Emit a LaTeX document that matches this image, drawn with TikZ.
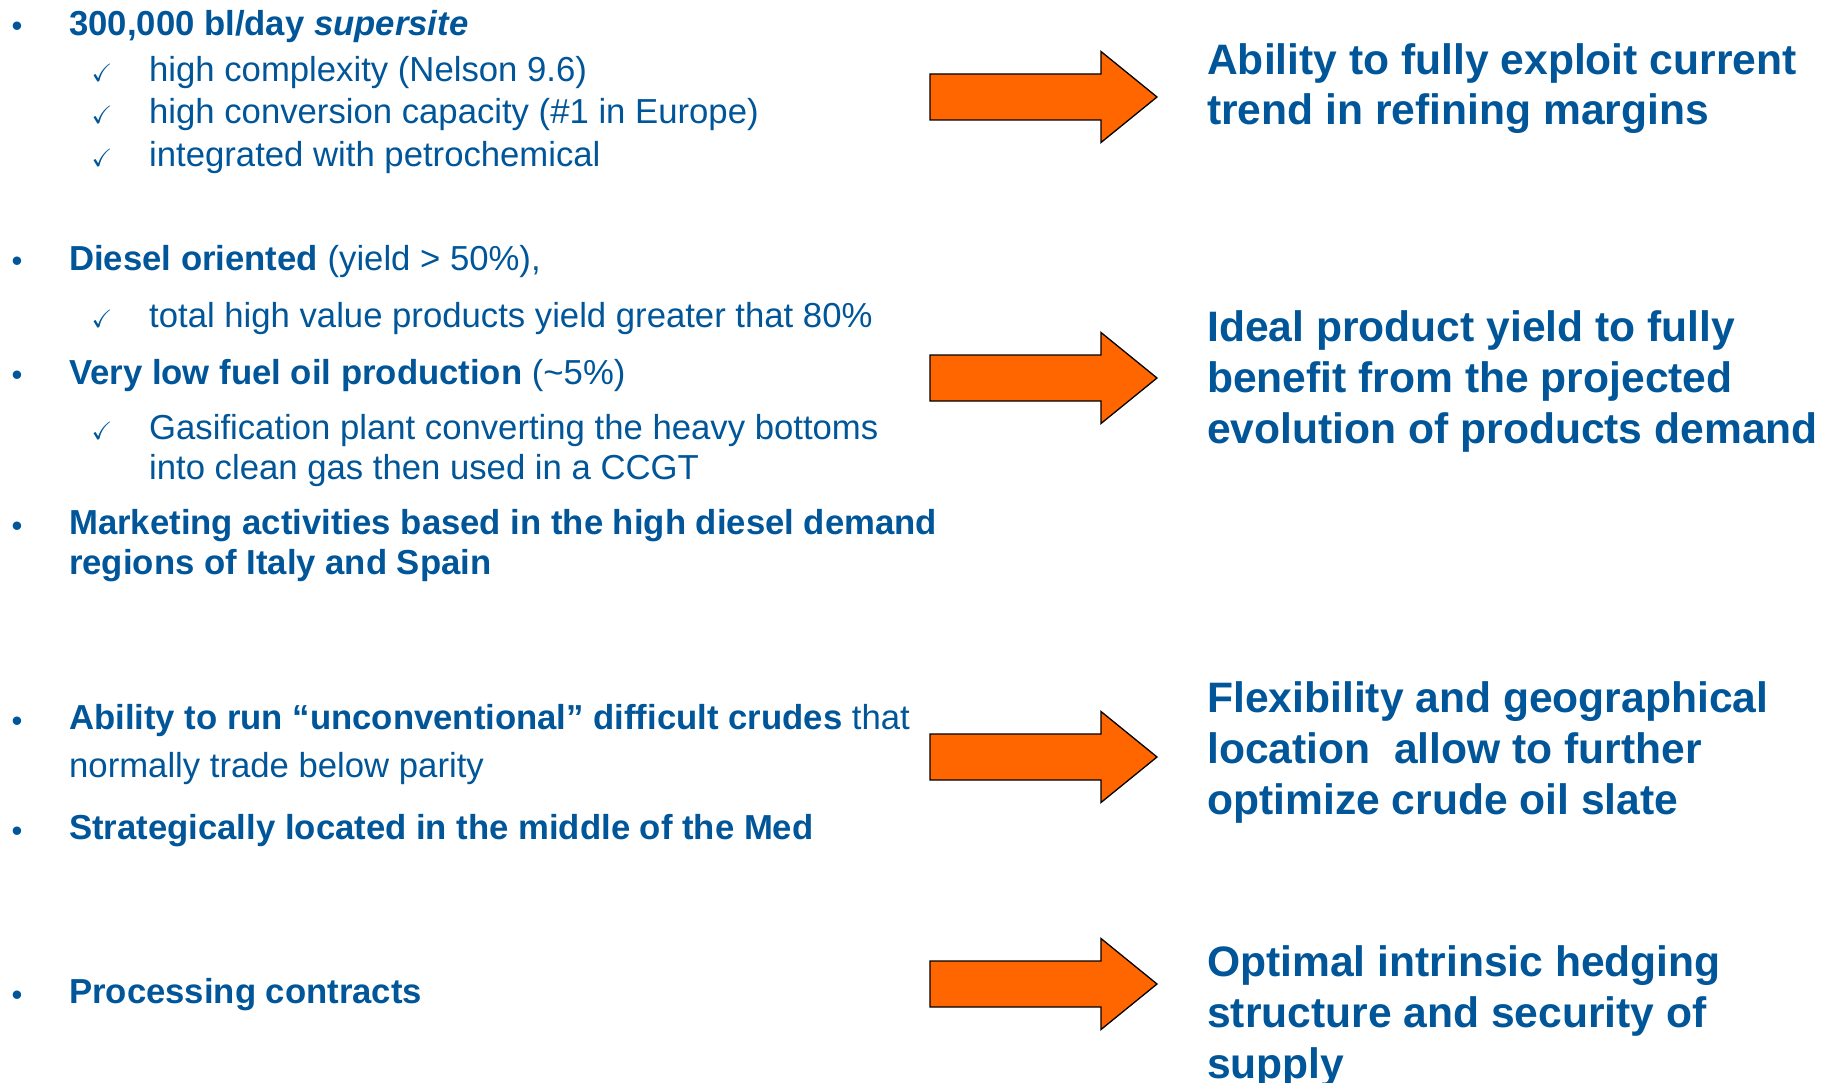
\documentclass[tikz,border=0pt]{standalone}
\usepackage{fontspec}
\usepackage{amssymb}
\setmainfont{Liberation Sans}
\definecolor{txtblue}{RGB}{0,86,153}
\definecolor{arroworange}{RGB}{255,102,0}
\tikzset{
  ltxt/.style={anchor=base west, inner sep=0pt, text=txtblue, font=\fontsize{34.7}{40}\selectfont},
  rtxt/.style={anchor=base west, inner sep=0pt, text=txtblue, font=\fontsize{42.6}{51}\selectfont\bfseries},
  bul/.style={anchor=base, inner sep=0pt, text=txtblue, font=\fontsize{31}{34}\selectfont, yshift=-1.5pt},
  chk/.style={anchor=base, inner sep=0pt, text=txtblue, font=\fontsize{25}{28}\selectfont},
  bigarrow/.style={fill=arroworange, draw=black, line width=1.3pt, line join=miter},
}
\begin{document}
\begin{tikzpicture}[x=1pt,y=-1pt]
\useasboundingbox (0,0) rectangle (1831,1083);
\begin{scope}[shift={(0,2.5)}]
% ---------- left column ----------
\node[bul]  (b1) at (17,33) {•};
\node[ltxt] (l1) at (69,33) {\textbf{300,000 bl/day \textit{supersite}}};
\node[chk]  (c1) at (102,79) {$\checkmark$};
\node[ltxt] (l2) at (149,79) {high complexity (Nelson 9.6)};
\node[chk]  (c2) at (102,121) {$\checkmark$};
\node[ltxt] (l3) at (149,121) {high conversion capacity (\#1 in Europe)};
\node[chk]  (c3) at (102,164) {$\checkmark$};
\node[ltxt] (l4) at (149,164) {integrated with petrochemical};

\node[bul]  (b2) at (17,268) {•};
\node[ltxt] (l5) at (69,268) {\textbf{Diesel oriented} (yield > 50\%),};
\node[chk]  (c4) at (102,325) {$\checkmark$};
\node[ltxt] (l6) at (149,325) {total high value products yield greater that 80\%};
\node[bul]  (b3) at (17,381.5) {•};
\node[ltxt] (l7) at (69,381.5) {\textbf{Very low fuel oil production} (\textasciitilde5\%)};
\node[chk]  (c5) at (102,437) {$\checkmark$};
\node[ltxt] (l8) at (149,437) {Gasification plant converting the heavy bottoms};
\node[ltxt] (l9) at (149,477) {into clean gas then used in a CCGT};
\node[bul]  (b4) at (17,532) {•};
\node[ltxt] (l10) at (69,532) {\textbf{Marketing activities based in the high diesel demand}};
\node[ltxt] (l11) at (69,572) {\textbf{regions of Italy and Spain}};

\node[bul]  (b5) at (17,727) {•};
\node[ltxt] (l12) at (69,727) {\textbf{Ability to run “unconventional” difficult crudes} that};
\node[ltxt] (l13) at (69,775) {normally trade below parity};
\node[bul]  (b6) at (17,837) {•};
\node[ltxt] (l14) at (69,837) {\textbf{Strategically located in the middle of the Med}};

\node[bul]  (b7) at (17,1001) {•};
\node[ltxt] (l15) at (69,1001) {\textbf{Processing contracts}};

% ---------- right column ----------
\node[rtxt] (r11) at (1207,72) {Ability to fully exploit current};
\node[rtxt] (r12) at (1207,122) {trend in refining margins};

\node[rtxt] (r21) at (1207,339) {Ideal product yield to fully};
\node[rtxt] (r22) at (1207,390) {benefit from the projected};
\node[rtxt] (r23) at (1207,441) {evolution of products demand};

\node[rtxt] (r31) at (1207,710) {Flexibility and geographical};
\node[rtxt] (r32) at (1207,761) {location\ \ allow to further};
\node[rtxt] (r33) at (1207,812) {optimize crude oil slate};

\node[rtxt] (r41) at (1207,974) {Optimal intrinsic hedging};
\node[rtxt] (r42) at (1207,1025) {structure and security of};
\node[rtxt] (r43) at (1207,1076) {supply};
\end{scope}

% ---------- arrows ----------
\foreach \c in {97,378,757,984}{
  \draw[bigarrow] (930,\c-23) -- (1101,\c-23) -- (1101,\c-45.5) -- (1157,\c)
    -- (1101,\c+45.5) -- (1101,\c+23) -- (930,\c+23) -- cycle;
}
\end{tikzpicture}
\end{document}
